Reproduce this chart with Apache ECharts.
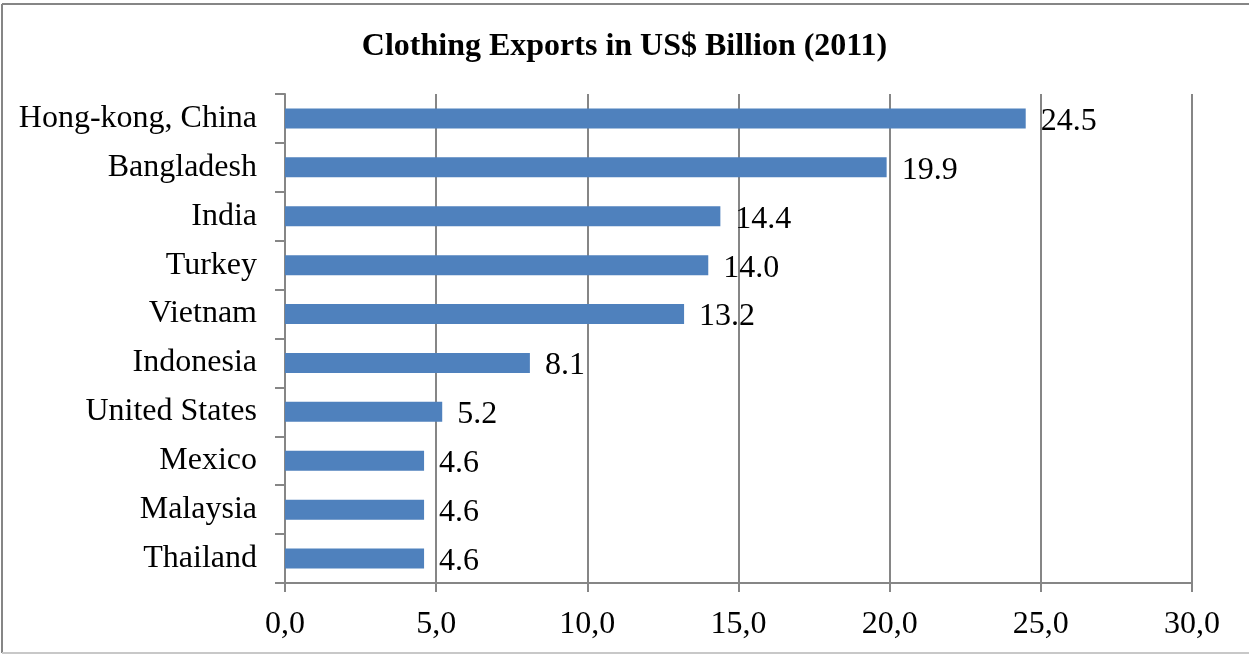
<!DOCTYPE html>
<html>
<head>
<meta charset="utf-8">
<script src="https://cdn.jsdelivr.net/npm/echarts@6/dist/echarts.min.js"></script>
<style>
  html, body { margin: 0; padding: 0; background: #fff; }
  #chart { width: 1249px; height: 655px; }
</style>
</head>
<body>
<div id="chart"></div>
<script>
// Clothing exports by country, 2011 (US$ billion)
const countries = ['Hong-kong, China', 'Bangladesh', 'India', 'Turkey', 'Vietnam',
                   'Indonesia', 'United States', 'Mexico', 'Malaysia', 'Thailand'];
const exportsBn = [24.5, 19.9, 14.4, 14.0, 13.2, 8.1, 5.2, 4.6, 4.6, 4.6];
const titleText = 'Clothing Exports in US$ Billion (2011)';
const axisMin = 0, axisMax = 30, axisStep = 5;

const serif = '"Liberation Serif", "Times New Roman", serif';
const gray = '#868686';

const chart = echarts.init(document.getElementById('chart'), null, { renderer: 'canvas' });
chart.setOption({
  backgroundColor: '#fff',
  animation: false,
  title: {
    text: titleText,
    left: 'center',
    top: 26,
    textStyle: { fontFamily: serif, fontSize: 32, fontWeight: 'bold', color: '#000' }
  },
  graphic: [
    { type: 'line', shape: { x1: 2, y1: 4, x2: 1249, y2: 4 }, style: { stroke: gray, lineWidth: 2 } },
    { type: 'line', shape: { x1: 2, y1: 4, x2: 2, y2: 653 }, style: { stroke: gray, lineWidth: 2 } },
    { type: 'line', shape: { x1: 2, y1: 653, x2: 1249, y2: 653 }, style: { stroke: '#c8c8c8', lineWidth: 2 } }
  ],
  grid: { left: 285, right: 57, top: 94, bottom: 72, containLabel: false },
  xAxis: {
    type: 'value',
    min: axisMin, max: axisMax, interval: axisStep,
    axisLine: { show: true, lineStyle: { color: gray, width: 2 } },
    axisTick: { show: true, length: 9, lineStyle: { color: gray, width: 2 } },
    splitLine: { show: true, lineStyle: { color: gray, width: 2 } },
    axisLabel: {
      margin: 26,
      fontFamily: serif, fontSize: 32, color: '#000',
      formatter: v => v.toFixed(1).replace('.', ',')
    }
  },
  yAxis: {
    type: 'category',
    data: countries,
    inverse: true,
    axisLine: { show: true, lineStyle: { color: gray, width: 2 } },
    axisTick: { show: true, length: 10, lineStyle: { color: gray, width: 2 } },
    axisLabel: { margin: 28, padding: [4, 0, 0, 0], fontFamily: serif, fontSize: 32, color: '#000' }
  },
  series: [{
    type: 'bar',
    data: exportsBn,
    barWidth: '41%',
    itemStyle: { color: '#4F81BD' },
    label: {
      show: true,
      position: 'right',
      distance: 15,
      offset: [0, 3],
      fontFamily: serif, fontSize: 32, color: '#000',
      formatter: p => p.value.toFixed(1)
    }
  }]
});
</script>
</body>
</html>
